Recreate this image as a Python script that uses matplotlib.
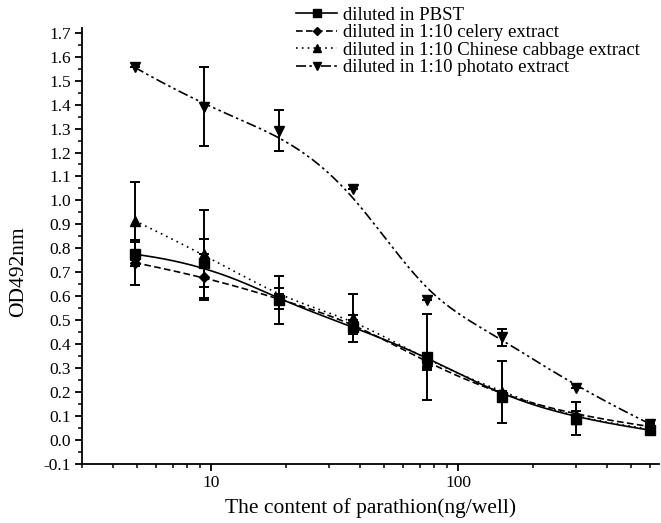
import numpy as np
import matplotlib

matplotlib.use("Agg")
import matplotlib.pyplot as plt
from matplotlib.ticker import FixedLocator, MultipleLocator, NullFormatter, FormatStrFormatter

plt.rcParams["font.family"] = ["Liberation Serif", "DejaVu Serif"]

# content of parathion (ng/well)
content = [4.9, 9.375, 18.75, 37.5, 75, 150, 300, 600]

pbst = [0.775, 0.737, 0.584, 0.472, 0.347, 0.180, 0.088, 0.040]
pbst_err = [0.05, 0.10, 0.10, 0.03, 0.18, 0.02, 0.07, 0.02]

celery = [0.740, 0.681, 0.590, 0.490, 0.320, 0.185, 0.100, 0.055]
celery_err = [0.095, 0.097, 0.045, 0.03, 0.03, 0.02, 0.02, 0.02]

cabbage = [0.915, 0.776, 0.590, 0.507, 0.330, 0.200, 0.085, 0.045]
cabbage_err = [0.163, 0.184, 0.02, 0.10, 0.03, 0.13, 0.02, 0.015]

photato = [1.556, 1.391, 1.291, 1.046, 0.583, 0.428, 0.218, 0.065]
photato_err = [0, 0.165, 0.086, 0, 0, 0.035, 0, 0]

labels = [
    "diluted in PBST",
    "diluted in 1:10 celery extract",
    "diluted in 1:10 Chinese cabbage extract",
    "diluted in 1:10 photato extract",
]


def bspline_curve(x, y, n=300):
    """Clamped cubic B-spline through (log x, y) control points, like Origin's B-spline line."""
    px = np.log10(np.asarray(x, dtype=float))
    py = np.asarray(y, dtype=float)
    k = 3
    m = len(px)
    knots = np.concatenate([np.zeros(k), np.linspace(0, 1, m - k + 1), np.ones(k)])
    t = np.linspace(0, 1, n)
    t[-1] -= 1e-9

    def basis(i, d, tt):
        if d == 0:
            return np.where((knots[i] <= tt) & (tt < knots[i + 1]), 1.0, 0.0)
        left = 0.0
        right = 0.0
        if knots[i + d] != knots[i]:
            left = (tt - knots[i]) / (knots[i + d] - knots[i]) * basis(i, d - 1, tt)
        if knots[i + d + 1] != knots[i + 1]:
            right = (knots[i + d + 1] - tt) / (knots[i + d + 1] - knots[i + 1]) * basis(i + 1, d - 1, tt)
        return left + right

    bx = np.zeros(n)
    by = np.zeros(n)
    for i in range(m):
        b = basis(i, k, t)
        bx += b * px[i]
        by += b * py[i]
    return 10 ** bx, by


fig = plt.figure(figsize=(6.61, 5.23), dpi=100)
ax = fig.add_axes([0.124, 0.1134, 0.873, 0.833])

series = [
    (pbst, pbst_err, "s", "-"),
    (celery, celery_err, "D", (0, (4, 2))),
    (cabbage, cabbage_err, "^", (0, (1, 2.5))),
    (photato, photato_err, "v", (0, (6, 2, 1.5, 2, 1.5, 2))),
]

handles = []
for (vals, errs, marker, ls), label in zip(series, labels):
    ms = 5.2 if marker == "D" else 7
    ax.errorbar(content, vals, yerr=errs, fmt="none", ecolor="black",
                elinewidth=1.4, capsize=3.3, capthick=1.4, zorder=2)
    ax.plot(content, vals, linestyle="none", marker=marker, color="black",
            markersize=ms, zorder=3)
    cx, cy = bspline_curve(content, vals)
    ax.plot(cx, cy, color="black", linestyle=ls, linewidth=1.2, zorder=2)
    h, = ax.plot([], [], color="black", linestyle=ls, linewidth=1.2,
                 marker=marker, markersize=ms - 1, label=label)
    handles.append(h)

ax.set_xscale("log")
ax.set_xlim(3, 650)
ax.set_ylim(-0.1, 1.72)

ax.xaxis.set_major_locator(FixedLocator([10, 100]))
ax.xaxis.set_major_formatter(FormatStrFormatter("%d"))
ax.xaxis.set_minor_locator(FixedLocator([3, 4, 5, 6, 7, 8, 9, 20, 30, 40, 50, 60, 70, 80, 90,
                                         200, 300, 400, 500, 600]))
ax.xaxis.set_minor_formatter(NullFormatter())
ax.set_yticks(np.arange(-0.1, 1.71, 0.1))
ax.yaxis.set_major_formatter(FormatStrFormatter("%.1f"))
ax.yaxis.set_minor_locator(MultipleLocator(0.05))

ax.tick_params(axis="both", which="major", direction="out", length=5, width=1.3,
               labelsize=12.5, colors="black", pad=3)
ax.tick_params(axis="both", which="minor", direction="out", length=3, width=1.1)

for side in ("top", "right"):
    ax.spines[side].set_visible(False)
for side in ("left", "bottom"):
    ax.spines[side].set_linewidth(1.3)

ax.set_xlabel("The content of parathion(ng/well)", fontsize=15.5, labelpad=5)
ax.set_ylabel("OD492nm", fontsize=15.5)
ax.yaxis.set_label_coords(-0.094, 0.44)

fig.legend(handles=handles, loc="upper left", bbox_to_anchor=(0.428, 1.012),
           frameon=False, fontsize=13.5, handlelength=2.2, handletextpad=0.3,
           labelspacing=0.02, borderpad=0.2)

fig.savefig("out.png", dpi=100)
plt.close(fig)
